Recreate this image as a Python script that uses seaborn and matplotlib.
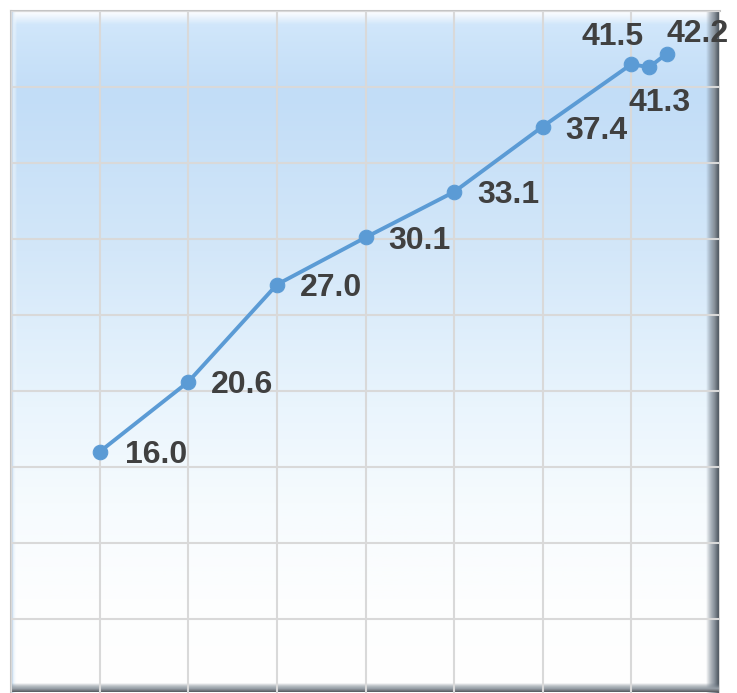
import numpy as np
import pandas as pd
import seaborn as sns
import matplotlib.pyplot as plt
from matplotlib.colors import LinearSegmentedColormap

# ==============================
# DATA
# ==============================
years = [1990, 1995, 2000, 2005, 2010, 2015, 2020, 2021, 2022]
values = [16.0, 20.6, 27.0, 30.1, 33.1, 37.4, 41.5, 41.3, 42.2]
labels = ["16.0", "20.6", "27.0", "30.1", "33.1", "37.4", "41.5", "41.3", "42.2"]

df = pd.DataFrame({"year": years, "value": values})

# label offsets in pixels (x, y) and alignment
offsets = [(25, -3), (23, -3), (23, -3), (23, -4), (23, -3), (23, -4),
           (-19, 27), (10, -36), (31, 20)]
aligns = ["left"] * 6 + ["center"] * 3

# ==============================
# FIGURE
# ==============================
sns.set_style("white")
plt.rcParams['font.family'] = ['Liberation Sans', 'DejaVu Sans']

fig = plt.figure(figsize=(7.37, 6.93), dpi=100)
fig.patch.set_facecolor("white")
W, H = 737, 693
ax = fig.add_axes([11 / W, -2 / H, 709 / W, 684 / H])

ax.set_xlim(1985, 2025)
ax.set_ylim(0, 45)

# background gradient (top blue -> bottom white); row 0 drawn at the top
bg = LinearSegmentedColormap.from_list(
    "bg",
    [(0.0, "#D3E8FB"), (0.12, "#C2DDF7"), (0.35, "#D3E7F9"),
     (0.58, "#EAF5FD"), (0.72, "#F6FBFE"), (0.86, "#FDFEFE"), (1.0, "#FFFFFF")])
grad = np.linspace(0, 1, 256).reshape(-1, 1)
ax.imshow(grad, cmap=bg, aspect="auto", extent=[0, 1, 0, 1],
          transform=ax.transAxes, zorder=0)

# bevel effects
top_hl = LinearSegmentedColormap.from_list("th", [(0, "#FFFFFF"), (1, (1, 1, 1, 0))])
ax.imshow(np.linspace(0, 1, 64).reshape(-1, 1), cmap=top_hl, aspect="auto",
          extent=[0, 1, 1 - 14 / 684, 1], transform=ax.transAxes, zorder=0.5)
left_hl = LinearSegmentedColormap.from_list("lh", [(0, "#9FB6CC"), (0.3, "#DCEBF8"), (1, (1, 1, 1, 0))])
ax.imshow(np.linspace(0, 1, 64).reshape(1, -1), cmap=left_hl, aspect="auto",
          extent=[0, 6 / 709, 0, 1], transform=ax.transAxes, zorder=0.5)
right_sh = LinearSegmentedColormap.from_list("rs", [(0, (0.4, 0.45, 0.5, 0)), (0.6, "#8A939C"), (1, "#3E4750")])
ax.imshow(np.linspace(0, 1, 64).reshape(1, -1), cmap=right_sh, aspect="auto",
          extent=[1 - 14 / 709, 1, 0, 1], transform=ax.transAxes, zorder=0.5)
bot_sh = LinearSegmentedColormap.from_list("bs", [(0, (0.4, 0.45, 0.5, 0)), (0.6, "#9AA2AA"), (1, "#55595E")])
ax.imshow(np.linspace(0, 1, 64).reshape(-1, 1), cmap=bot_sh, aspect="auto",
          extent=[0, 1, 3 / 684, 12 / 684], transform=ax.transAxes, zorder=0.5)

# grid
ax.set_xticks(np.arange(1985, 2026, 5))
ax.set_yticks(np.arange(0, 46, 5))
ax.grid(True, color="#D9D9D9", linewidth=1.5, zorder=1)
ax.set_axisbelow(False)
ax.tick_params(left=False, bottom=False, labelleft=False, labelbottom=False)
for s in ["top", "left"]:
    ax.spines[s].set_color("#C4C4C4")
    ax.spines[s].set_linewidth(1.5)
for s in ["right", "bottom"]:
    ax.spines[s].set_visible(False)

# line
sns.lineplot(data=df, x="year", y="value", ax=ax, color="#5B9BD5",
             linewidth=2.8, marker="o", markersize=10.5,
             markeredgecolor="#5B9BD5", zorder=3)
ax.set_xlabel("")
ax.set_ylabel("")

for x, y, t, off, ha in zip(years, values, labels, offsets, aligns):
    ax.annotate(t, (x, y), xytext=off, textcoords="offset pixels",
                ha=ha, va="center", fontsize=23, fontweight="bold",
                color="#404040", zorder=4, annotation_clip=False)

fig.savefig("out.png", dpi=100)
